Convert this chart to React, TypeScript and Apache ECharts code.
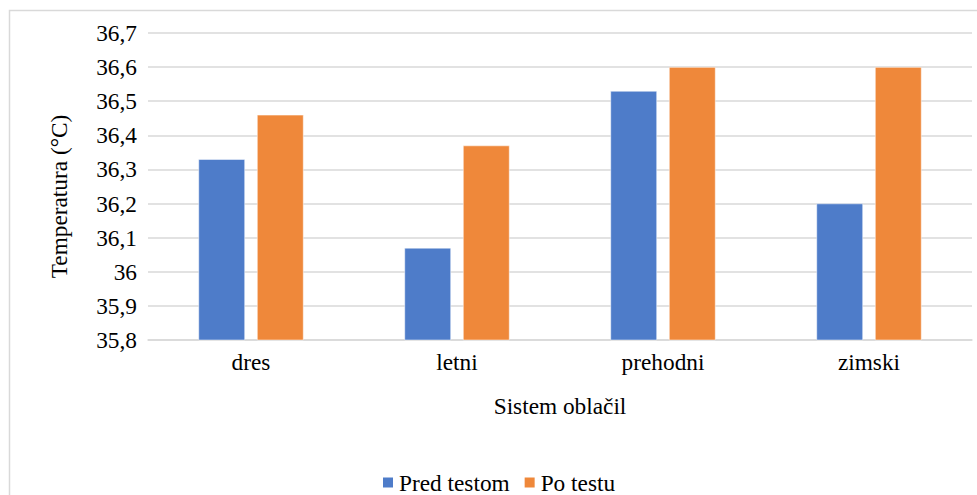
import React, { useEffect, useRef } from "react";
import * as echarts from "echarts";

const categories = ["dres", "letni", "prehodni", "zimski"];
const predTestom = [36.33, 36.07, 36.53, 36.2];
const poTestu = [36.46, 36.37, 36.6, 36.6];
const seriesNames = ["Pred testom", "Po testu"];
const yMin = 35.8;
const yMax = 36.7;
const yStep = 0.1;

const FONT = "Liberation Serif, Times New Roman, serif";
const FS = 23.3;

export default function App() {
  const ref = useRef<HTMLDivElement>(null);
  useEffect(() => {
    if (!ref.current) return;
    const chart = echarts.init(ref.current, undefined, { renderer: "svg" });
    const txt = { fontFamily: FONT, fontSize: FS, color: "#000" };
    chart.setOption({
      animation: false,
      backgroundColor: "#ffffff",
      textStyle: { fontFamily: FONT },
      graphic: [
        {
          type: "rect",
          shape: { x: 9.5, y: 10.5, width: 1000, height: 1000 },
          style: { fill: "none", stroke: "#d9d9d9", lineWidth: 1.5 },
          silent: true,
        },
      ],
      grid: { left: 148, right: 5, top: 33, bottom: 155, containLabel: false },
      legend: {
        data: seriesNames,
        bottom: -4,
        left: 376,
        itemWidth: 12,
        itemHeight: 12,
        itemGap: 13,
        icon: "rect",
        textStyle: txt,
      },
      xAxis: {
        type: "category",
        data: categories,
        name: "Sistem oblačil",
        nameLocation: "middle",
        nameGap: 54,
        nameTextStyle: txt,
        axisLine: { show: true, lineStyle: { color: "#d9d9d9", width: 1.5 } },
        axisTick: { show: false },
        axisLabel: { margin: 10, ...txt },
      },
      yAxis: {
        type: "value",
        min: yMin,
        max: yMax,
        interval: yStep,
        name: "Temperatura (°C)",
        nameLocation: "middle",
        nameGap: 78,
        nameTextStyle: { ...txt, padding: [0, 20, 0, 0] },
        axisLine: { show: false },
        axisTick: { show: false },
        splitLine: { lineStyle: { color: "#d9d9d9", width: 1.5 } },
        axisLabel: {
          margin: 11,
          ...txt,
          formatter: (v: number) => String(Number(v.toFixed(1))).replace(".", ","),
        },
      },
      series: [
        {
          name: seriesNames[0],
          type: "bar",
          data: predTestom,
          barGap: "26%",
          barCategoryGap: "49%",
          itemStyle: { color: "#4E7CC9", borderColor: "#ffffff", borderWidth: 0.5 },
        },
        {
          name: seriesNames[1],
          type: "bar",
          data: poTestu,
          itemStyle: { color: "#EF883A", borderColor: "#ffffff", borderWidth: 0.5 },
        },
      ],
    });
    return () => chart.dispose();
  }, []);
  return (
    <div
      ref={ref}
      style={{ position: "fixed", left: 0, top: 0, width: 977, height: 495 }}
    />
  );
}
